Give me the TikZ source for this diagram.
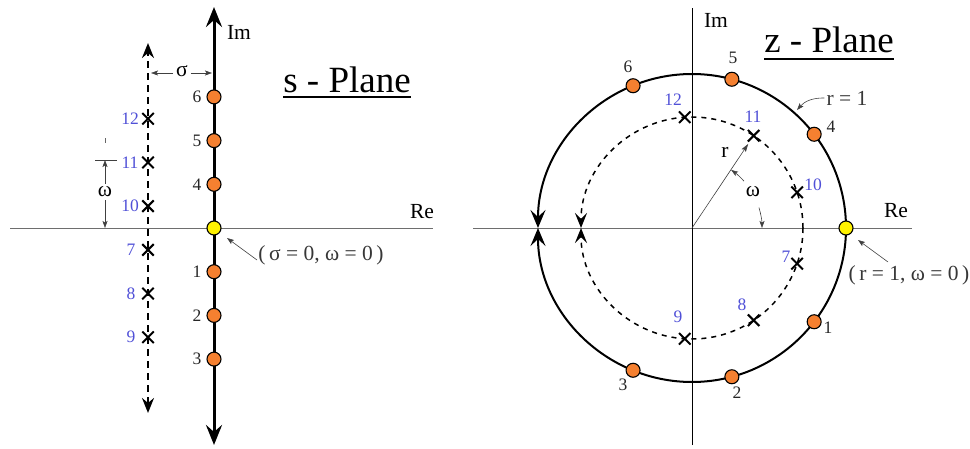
\documentclass[tikz,border=0pt]{standalone}
\usepackage{fontspec}
\setmainfont{Liberation Serif}
\usetikzlibrary{arrows.meta,calc,shapes.misc}
\definecolor{dotorange}{RGB}{245,128,48}
\definecolor{lblue}{RGB}{80,80,215}
\definecolor{axisgray}{RGB}{110,110,110}
\definecolor{txtgray}{RGB}{55,55,55}
\begin{document}
\begin{tikzpicture}[x=1pt,y=1pt,
  dotpt/.style={circle,draw=black,line width=1.1pt,fill=dotorange,minimum size=14pt,inner sep=0pt},
  ydotpt/.style={dotpt,fill=yellow},
  xmk/.style={cross out,draw=black,line width=2pt,minimum size=9.5pt,inner sep=0pt},
  num/.style={font=\fontsize{17.5}{17.5}\selectfont,text=black!85,inner sep=0pt},
  bnum/.style={font=\fontsize{17.5}{17.5}\selectfont,text=lblue,inner sep=0pt},
  axlab/.style={font=\fontsize{21.5}{21.5}\selectfont,text=black,inner sep=0pt},
  bigtitle/.style={font=\fontsize{37}{37}\selectfont,text=black,inner sep=0pt,anchor=base},
  thinax/.style={draw=axisgray,line width=0.8pt},
  dimarrow/.style={draw=black!75,line width=0.6pt,-{Stealth[length=7pt,width=5pt,inset=1.5pt]}},
  bigtip/.style={-{Stealth[length=18pt,width=15pt,inset=7pt]}},
  midtip/.style={-{Stealth[length=15pt,width=12pt,inset=6pt]}}
]
\useasboundingbox (0,0) rectangle (970,448);

% ================= s-plane =================
\coordinate (sReL) at (10,220);
\coordinate (sReR) at (433,220);
\draw[thinax] (sReL) -- (sReR);
\coordinate (sImB) at (214,3);
\coordinate (sImT) at (214,441);
\draw[line width=3pt,{Stealth[length=20pt,width=16pt,inset=7pt]}-{Stealth[length=20pt,width=16pt,inset=7pt]}] (sImB) -- (sImT);
\coordinate (sDB) at (148,35);
\coordinate (sDT) at (148,405);
\draw[line width=2.3pt,dash pattern=on 7pt off 5pt,{Stealth[length=15pt,width=12pt,inset=5pt]}-{Stealth[length=15pt,width=12pt,inset=5pt]}] (sDB) -- (sDT);

\node[axlab] (sIm) at (239,416) {Im};
\node[axlab] (sRe) at (422,236) {Re};
\node[bigtitle] (sP) at (347,355) {s - Plane};
\draw[line width=2.3pt] ($(sP.base west)+(0,-4)$) -- ($(sP.base east)+(0,-4)$);

% orange points on Im axis
\node[ydotpt] (s0) at (214,220) {};
\foreach \k/\lab in {1/4,2/5,3/6}{
  \node[dotpt] (sp\lab) at (214,{220+43.7*\k}) {};
  \node[num] (spl\lab) at (197,{220+43.7*\k}) {\lab};
}
\foreach \k/\lab in {1/1,2/2,3/3}{
  \node[dotpt] (sp\lab) at (214,{220-43.7*\k}) {};
  \node[num] (spl\lab) at (197,{220-43.7*\k}) {\lab};
}
% crosses on dashed line
\foreach \k/\lab in {1/10,3/11,5/12}{
  \node[xmk] (sx\lab) at (148,{220+21.85*\k}) {};
  \node[bnum] (sxl\lab) at (130,{220+21.85*\k}) {\lab};
}
\foreach \k/\lab in {1/7,3/8,5/9}{
  \node[xmk] (sx\lab) at (148,{220-21.85*\k}) {};
  \node[bnum] (sxl\lab) at (131,{220-21.85*\k}) {\lab};
}

% sigma dimension
\node[axlab] (sig) at (182,377) {σ};
\coordinate (sigL) at (151,375);
\coordinate (sigR) at (212,375);
\draw[dimarrow] (sig.west) ++(-3,-2) -- (sigL);
\draw[dimarrow] (sig.east) ++(3,-2) -- (sigR);

% omega dimension
\node[axlab] (om) at (105,256) {ω};
\coordinate (wtick) at (105,288);
\coordinate (wbase) at (105,220);
\draw[black!75,line width=0.6pt] (95,288) -- (117,288);
\draw[black!60,line width=0.6pt] (105,305) -- (105,310);
\draw[dimarrow] (om.north) ++(0,3) -- (wtick);
\draw[dimarrow] (om.south) ++(0,-3) -- (wbase);

% (sigma=0, omega=0)
\node[axlab,text=txtgray] (sorig) at (321,193) {(\,σ = 0, ω = 0\,)};
\coordinate (sorigTip) at (227,210);
\draw[dimarrow] (257,188) -- (sorigTip);

% ================= z-plane =================
\coordinate (zc) at (692,220);
\coordinate (zReL) at (473,220);
\coordinate (zReR) at (912,220);
\draw[thinax] (zReL) -- (zReR);
\coordinate (zImB) at (692,3);
\coordinate (zImT) at (692,440);
\draw[black,line width=0.8pt] (zImB) -- (zImT);
\node[axlab] (zIm) at (716,428) {Im};
\node[axlab] (zRe) at (896,237) {Re};
\node[bigtitle] (zP) at (829,395) {z - Plane};
\draw[line width=2.3pt] ($(zP.base west)+(0,-6)$) -- ($(zP.base east)+(0,-6)$);

% outer circle
\coordinate (zR0) at ($(zc)+(0:154)$);
\draw[line width=2pt,bigtip] (zR0) arc[start angle=0,end angle=180,radius=154];
\draw[line width=2pt,bigtip] (zR0) arc[start angle=0,end angle=-180,radius=154];
% inner dashed circle
\coordinate (zr0) at ($(zc)+(0:111)$);
\draw[line width=1.5pt,dash pattern=on 5pt off 5pt,midtip] (zr0) arc[start angle=0,end angle=180,radius=111];
\draw[line width=1.5pt,dash pattern=on 5pt off 5pt,midtip] (zr0) arc[start angle=0,end angle=-180,radius=111];

% radius and angle
\node[xmk] (zx11) at ($(zc)+(56.25:111)$) {};
\draw[draw=black!75,line width=0.6pt,-{Stealth[length=8pt,width=5pt,inset=1.5pt]},shorten >=3pt] (zc) -- (zx11);
\node[axlab] (rl) at (725,296) {r};
\node[axlab] (zom) at (753,256) {ω};
\coordinate (wA) at ($(zc)+(42:70)$);
\coordinate (wB) at ($(zc)+(17:70)$);
\draw[dimarrow] (wA) arc[start angle=42,end angle=56,radius=70];
\draw[dimarrow] (wB) arc[start angle=17,end angle=0,radius=70];

% points on circles
\node[ydotpt] (z0) at (zR0) {};
\foreach \a/\lab in {37.5/4,75/5,112.5/6,-37.5/1,-75/2,-112.5/3}{
  \node[dotpt] (zp\lab) at ($(zc)+(\a:154)$) {};
}
\foreach \a/\lab in {18.75/10,93.75/12,-18.75/7,-56.25/8,-93.75/9}{
  \node[xmk] (zx\lab) at ($(zc)+(\a:111)$) {};
}
\foreach \lab/\px/\py in {4/831/321,5/733/390,6/628/381,1/828/120,2/737/55,3/623/63}{
  \node[num] (zpl\lab) at (\px,\py) {\lab};
}
\foreach \lab/\px/\py in {10/813/263,11/753/331,12/673/348,7/786/191,8/742/143,9/678/131}{
  \node[bnum] (zxl\lab) at (\px,\py) {\lab};
}

% r = 1 label
\node[axlab,text=txtgray] (r1) at (847,350) {r = 1};
\coordinate (r1tip) at (797,338);
\draw[dimarrow] (r1.west) ++(-2,0) to[bend right=25] (r1tip);

% (r=1, omega=0)
\node[axlab,text=txtgray] (zorig) at (909,173) {(\,r = 1, ω = 0\,)};
\coordinate (zorigTip) at (858,208);
\draw[dimarrow] (888,186) -- (zorigTip);

\end{tikzpicture}
\end{document}
